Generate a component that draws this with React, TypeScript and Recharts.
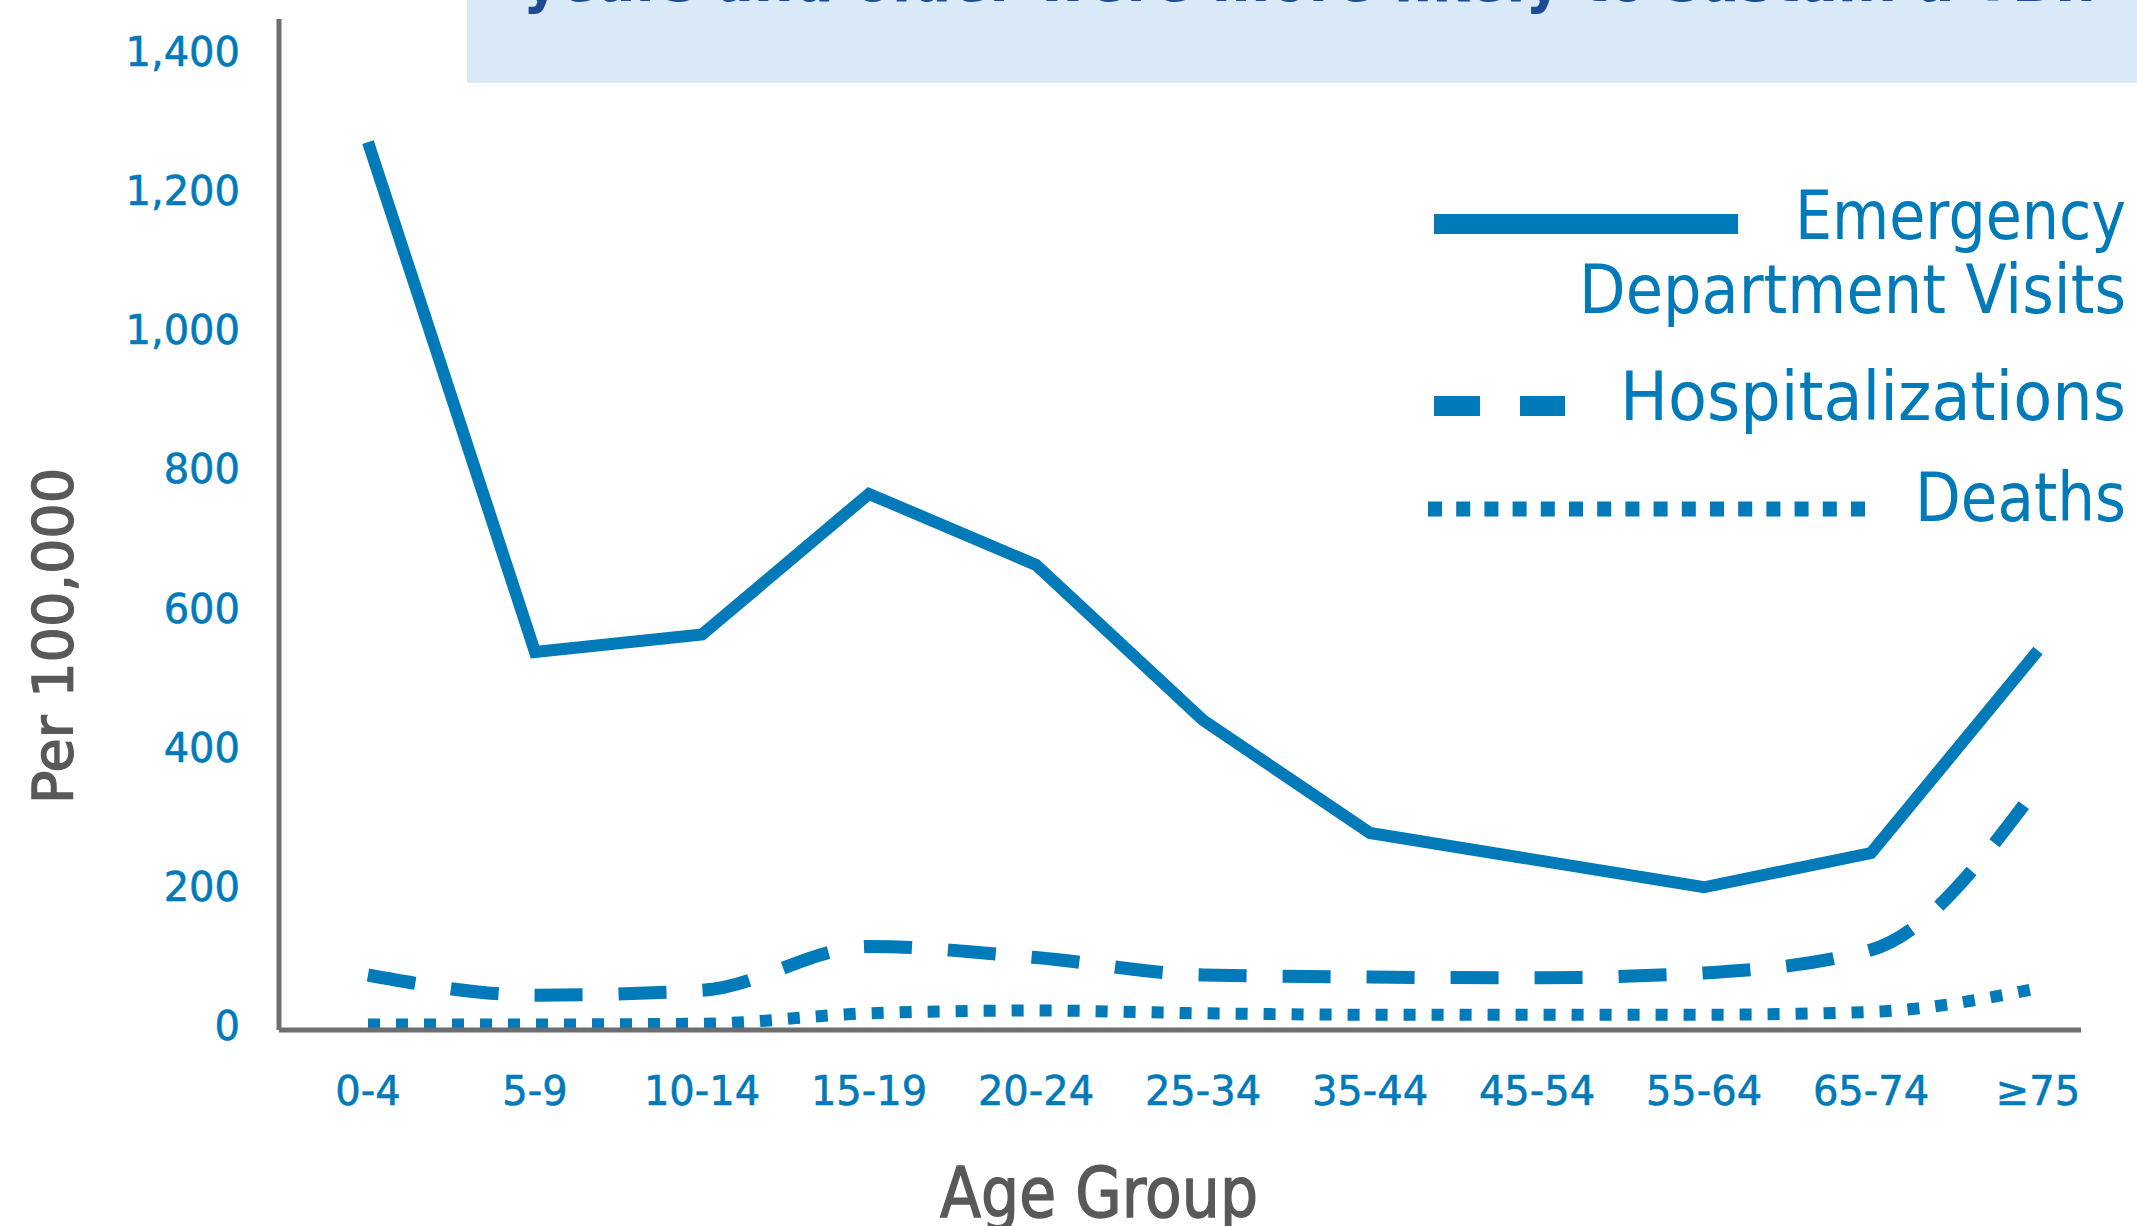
import React from "react";
import { LineChart, Line, XAxis, YAxis, Legend } from "recharts";

// values (per 100,000)
const AGE_GROUPS = ["0-4", "5-9", "10-14", "15-19", "20-24", "25-34", "35-44", "45-54", "55-64", "65-74", "≥75"];
const ED_VISITS = [1275, 543, 568, 770, 668, 445, 283, 244, 205, 254, 545];
const HOSPITALIZATIONS = [79, 50, 57, 120, 104, 79, 76, 75, 82, 115, 350];
const DEATHS = [8, 8, 9, 24, 28, 24, 22, 22, 22, 26, 60];
const Y_TICKS = [0, 200, 400, 600, 800, 1000, 1200, 1400];

const BLUE = "#007AB8";
const AXIS_GRAY = "#6D6E71";
const TITLE_GRAY = "#58595B";
const BANNER_BG = "#D9E9F7";
const BANNER_TEXT = "#1B4B95";
const FONT = '"DejaVu Sans", "Open Sans", sans-serif';

const W = 2137;
const H = 1226;

const data = AGE_GROUPS.map((age, i) => ({
  age,
  ed: ED_VISITS[i],
  hosp: HOSPITALIZATIONS[i],
  deaths: DEATHS[i],
}));

const YTick = ({ x, y, payload }: any) => (
  <text x={x} y={y - 4} dy="0.36em" textAnchor="end" fill={BLUE} fontSize={40} fontFamily={FONT}
    stroke={BLUE} strokeWidth={0.6}>
    {Number(payload.value).toLocaleString("en-US")}
  </text>
);

const XTick = ({ x, y, payload }: any) => (
  <text x={x} y={y} dy="0.71em" textAnchor="middle" fill={BLUE} fontSize={40} fontFamily={FONT}
    stroke={BLUE} strokeWidth={0.6}>
    {payload.value}
  </text>
);

const YTitle = () => (
  <text
    transform="translate(72,636) rotate(-90)"
    textAnchor="middle"
    fill={TITLE_GRAY}
    stroke={TITLE_GRAY}
    strokeWidth={1.5}
    fontSize={56}
    fontFamily={FONT}
    textLength={336}
    lengthAdjust="spacingAndGlyphs"
  >
    Per 100,000
  </text>
);

const XTitle = () => (
  <text
    x={1099}
    y={1217}
    textAnchor="middle"
    fill={TITLE_GRAY}
    stroke={TITLE_GRAY}
    strokeWidth={1.5}
    fontSize={70}
    fontFamily={FONT}
    textLength={318}
    lengthAdjust="spacingAndGlyphs"
  >
    Age Group
  </text>
);

const legendText = (label: string, y: number, len: number) => (
  <text
    x={2126}
    y={y}
    textAnchor="end"
    fill={BLUE}
    fontSize={68}
    fontFamily={FONT}
    textLength={len}
    lengthAdjust="spacingAndGlyphs"
  >
    {label}
  </text>
);

// legend drawn to the right, as in the original figure
const ChartLegend = () => (
  <svg width={W} height={H} style={{ position: "absolute", left: 0, top: 0 }}>
    <line x1={1434} x2={1738} y1={224} y2={224} stroke={BLUE} strokeWidth={20} />
    {legendText("Emergency", 239, 331)}
    {legendText("Department Visits", 313, 547)}
    <line x1={1434} x2={1565} y1={406} y2={406} stroke={BLUE} strokeWidth={20} strokeDasharray="46 40" />
    {legendText("Hospitalizations", 420, 506)}
    <line x1={1428} x2={1865} y1={509} y2={509} stroke={BLUE} strokeWidth={15} strokeDasharray="14 14.2" />
    {legendText("Deaths", 521, 211)}
  </svg>
);

export default function App() {
  return (
    <div style={{ position: "absolute", left: 0, top: 0, width: W, height: H, background: "#fff", overflow: "hidden" }}>
      {/* cut-off title banner */}
      <div style={{ position: "absolute", left: 467, top: 0, width: W - 467, height: 83, background: BANNER_BG, overflow: "hidden" }}>
        <svg width={W - 467} height={83}>
          <text
            x={56}
            y={1}
            fill={BANNER_TEXT}
            fontSize={62}
            fontWeight={700}
            fontFamily={FONT}
            textLength={1574}
            lengthAdjust="spacingAndGlyphs"
          >
            years and older were more likely to sustain a TBI.
          </text>
        </svg>
      </div>

      <LineChart
        width={W}
        height={H}
        data={data}
        margin={{ top: 19, right: 56, left: 79, bottom: 76 }}
      >
        <XAxis
          dataKey="age"
          height={120}
          padding={{ left: 89, right: 43 }}
          axisLine={{ stroke: AXIS_GRAY, strokeWidth: 5 }}
          tickLine={false}
          tickSize={0}
          tickMargin={47}
          interval={0}
          tick={<XTick />}
          label={<XTitle />}
        />
        <YAxis
          width={200}
          domain={[0, 1452]}
          ticks={Y_TICKS}
          interval={0}
          axisLine={{ stroke: AXIS_GRAY, strokeWidth: 5 }}
          tickLine={false}
          tickSize={0}
          tickMargin={39}
          tick={<YTick />}
          label={<YTitle />}
        />
        <Legend
          verticalAlign="middle"
          align="center"
          layout="horizontal"
          content={<ChartLegend />}
          wrapperStyle={{ left: 0, top: 0, width: W, height: H, pointerEvents: "none" }}
        />
        <Line
          name="Emergency Department Visits"
          type="linear"
          dataKey="ed"
          stroke={BLUE}
          strokeWidth={12}
          dot={false}
          activeDot={false}
          isAnimationActive={false}
        />
        <Line
          name="Hospitalizations"
          type="monotone"
          dataKey="hosp"
          stroke={BLUE}
          strokeWidth={13}
          strokeDasharray="48 36"
          dot={false}
          activeDot={false}
          isAnimationActive={false}
        />
        <Line
          name="Deaths"
          type="monotone"
          dataKey="deaths"
          stroke={BLUE}
          strokeWidth={12}
          strokeDasharray="12 16"
          dot={false}
          activeDot={false}
          isAnimationActive={false}
        />
      </LineChart>
    </div>
  );
}
